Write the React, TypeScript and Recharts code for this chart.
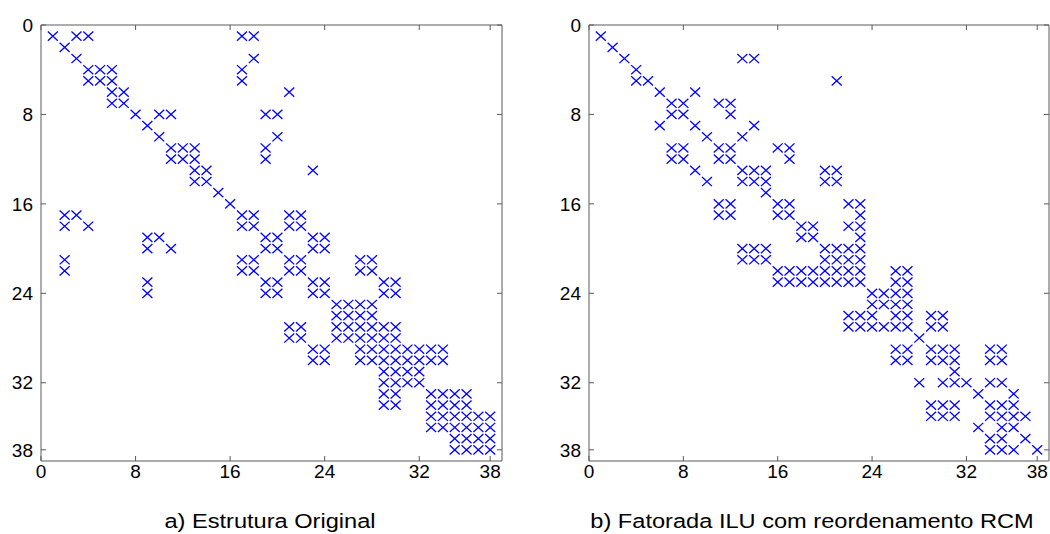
import React from "react";
import { ScatterChart, Scatter, XAxis, YAxis } from "recharts";

const TICKS = [0, 8, 16, 24, 32, 38];
const DOMAIN: [number, number] = [0, 39];

// nonzero columns for each row, rows 1..38
const ORIGINAL_ROWS: number[][] = [
  [1, 3, 4, 17, 18],
  [2],
  [3, 18],
  [4, 5, 6, 17],
  [4, 5, 6, 17],
  [6, 7, 21],
  [6, 7],
  [8, 10, 11, 19, 20],
  [9],
  [10, 20],
  [11, 12, 13, 19],
  [11, 12, 13, 19],
  [13, 14, 23],
  [13, 14],
  [15],
  [16],
  [2, 3, 17, 18, 21, 22],
  [2, 4, 17, 18, 21, 22],
  [9, 10, 19, 20, 23, 24],
  [9, 11, 19, 20, 23, 24],
  [2, 17, 18, 21, 22, 27, 28],
  [2, 17, 18, 21, 22, 27, 28],
  [9, 19, 20, 23, 24, 29, 30],
  [9, 19, 20, 23, 24, 29, 30],
  [25, 26, 27, 28],
  [25, 26, 27, 28],
  [21, 22, 25, 26, 27, 28, 29, 30],
  [21, 22, 25, 26, 27, 28, 29, 30],
  [23, 24, 27, 28, 29, 30, 31, 32, 33, 34],
  [23, 24, 27, 28, 29, 30, 31, 32, 33, 34],
  [29, 30, 31, 32],
  [29, 30, 31, 32],
  [29, 30, 33, 34, 35, 36],
  [29, 30, 33, 34, 35, 36],
  [33, 34, 35, 36, 37, 38],
  [33, 34, 35, 36, 37, 38],
  [35, 36, 37, 38],
  [35, 36, 37, 38],
];

const RCM_ROWS: number[][] = [
  [1],
  [2],
  [3, 13, 14],
  [4],
  [4, 5, 21],
  [6, 9],
  [7, 8, 11, 12],
  [7, 8, 12],
  [6, 9, 14],
  [10, 13],
  [7, 8, 11, 12, 16, 17],
  [7, 8, 11, 12, 17],
  [9, 13, 14, 15, 20, 21],
  [10, 13, 14, 15, 20, 21],
  [15],
  [11, 12, 16, 17, 22, 23],
  [11, 12, 16, 17, 23],
  [18, 19, 22, 23],
  [18, 19, 23],
  [13, 14, 15, 20, 21, 22, 23],
  [13, 14, 15, 20, 21, 22, 23],
  [16, 17, 18, 19, 20, 21, 22, 23, 26, 27],
  [16, 17, 18, 19, 20, 21, 22, 23, 26, 27],
  [24, 25, 26, 27],
  [24, 25, 26, 27],
  [22, 23, 24, 26, 27, 29, 30],
  [22, 23, 24, 25, 26, 27, 29, 30],
  [28],
  [26, 27, 29, 30, 31, 34, 35],
  [26, 27, 29, 30, 31, 34, 35],
  [31],
  [28, 30, 31, 32, 34, 35],
  [33, 36],
  [29, 30, 31, 34, 35, 36],
  [29, 30, 31, 34, 35, 36, 37],
  [33, 35, 36],
  [34, 35, 37],
  [34, 35, 36, 38],
];

const TITLES = ["a) Estrutura Original", "b) Fatorada ILU com reordenamento RCM"];

const FONT = "Liberation Sans, Arial, sans-serif";
const FRAME = "#5a5a5a";

const toPoints = (rows: number[][]) =>
  rows.flatMap((cols, i) => cols.map((col) => ({ col, row: i + 1 })));

const Cross = (props: any) => {
  const { cx, cy } = props;
  if (cx == null || cy == null) return <g />;
  const h = 5;
  const v = 4.6;
  return (
    <path
      d={`M${cx - h},${cy - v}L${cx + h},${cy + v}M${cx - h},${cy + v}L${cx + h},${cy - v}`}
      stroke="#0000FF"
      strokeWidth={1.3}
      fill="none"
    />
  );
};

const Blank = () => <g />;
const noLabel = () => "";

const Spy = ({ rows, left, width }: { rows: number[][]; left: number; width: number }) => {
  const data = toPoints(rows);
  const tickStyle = { fill: "#000", fontSize: 19, fontFamily: FONT };
  return (
    <div style={{ position: "absolute", left, top: 0 }}>
      <ScatterChart width={width} height={534} margin={{ top: 24, right: width > 503 ? 7 : 0, bottom: 59, left: 0 }}>
        <XAxis
          xAxisId="b"
          type="number"
          dataKey="col"
          domain={DOMAIN}
          ticks={TICKS}
          interval={0}
          allowDataOverflow
          orientation="bottom"
          height={14}
          tickSize={-5}
          tickMargin={9}
          stroke={FRAME}
          tick={tickStyle}
        />
        <XAxis
          xAxisId="t"
          type="number"
          dataKey="col"
          domain={DOMAIN}
          ticks={TICKS}
          interval={0}
          allowDataOverflow
          orientation="top"
          height={1}
          tickSize={-5}
          tickFormatter={noLabel}
          stroke={FRAME}
        />
        <YAxis
          yAxisId="l"
          type="number"
          dataKey="row"
          domain={DOMAIN}
          ticks={TICKS}
          interval={0}
          allowDataOverflow
          reversed
          width={41}
          tickSize={-5}
          tickMargin={13}
          stroke={FRAME}
          tick={tickStyle}
        />
        <YAxis
          yAxisId="r"
          type="number"
          dataKey="row"
          domain={DOMAIN}
          ticks={TICKS}
          interval={0}
          allowDataOverflow
          reversed
          orientation="right"
          width={1}
          tickSize={-5}
          tickFormatter={noLabel}
          stroke={FRAME}
        />
        <Scatter data={data} xAxisId="t" yAxisId="r" shape={Blank} isAnimationActive={false} />
        <Scatter data={data} xAxisId="b" yAxisId="l" shape={Cross} isAnimationActive={false} />
      </ScatterChart>
    </div>
  );
};

export default function App() {
  return (
    <div style={{ position: "absolute", left: 0, top: 0, width: 1050, height: 534, background: "#fff", overflow: "hidden" }}>
      <Spy rows={ORIGINAL_ROWS} left={0} width={510} />
      <Spy rows={RCM_ROWS} left={548} width={502} />
      {TITLES.map((t, i) => (
        <div
          key={t}
          style={{
            position: "absolute",
            left: i === 0 ? 20 : 562,
            width: 500,
            top: 510,
            textAlign: "center",
            fontFamily: FONT,
            fontSize: 20,
            color: "#000",
            lineHeight: "23px",
            whiteSpace: "nowrap",
            transform: "scaleX(1.18)",
          }}
        >
          {t}
        </div>
      ))}
    </div>
  );
}
